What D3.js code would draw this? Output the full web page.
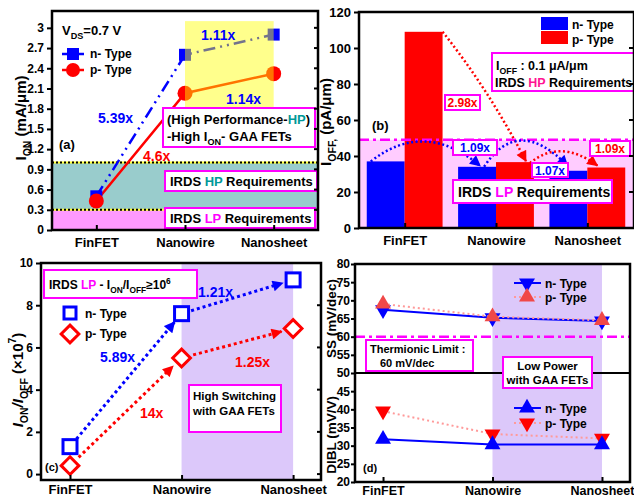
<!DOCTYPE html>
<meta charset="utf-8">
<script src="https://d3js.org/d3.v7.min.js"></script>
<style>
  body { margin: 0; background: #fff; }
  svg text { font-family: "Liberation Sans", Arial, sans-serif; font-weight: bold; }
</style>
<div id="chart"></div>
<script>

// shared categories
var cats = ["FinFET", "Nanowire", "Nanosheet"];

// (a) on-current, mA/um
var ionN = [0.5, 2.6, 2.9];
var ionP = [0.43, 2.03, 2.32];
var ionTicks = [0, 0.3, 0.6, 0.9, 1.2, 1.5, 1.8, 2.1, 2.4, 2.7, 3];
var hpBand = [0.3, 1.0];

// (b) off-current, pA/um
var ioffN = [37, 34, 31.8];
var ioffP = [109, 36.6, 33.6];
var ioffTicks = [0, 20, 40, 60, 80, 100, 120];
var lpLimit = 49;

// (c) Ion/Ioff (x1e7)
var ratioN = [1.3, 7.6, 9.2];
var ratioP = [0.4, 5.5, 6.9];
var ratioTicks = [0, 2, 4, 6, 8, 10];

// (d) SS (mV/dec) and DIBL (mV/V)
var ssN = [67.4, 65.2, 64.3];
var ssP = [69, 65.5, 64.5];
var diblN = [31.8, 30.3, 30.3];
var diblP = [39.5, 33.2, 32];
var dTicks = [20, 25, 30, 35, 40, 45, 50, 55, 60, 65, 70, 75, 80];
var ssLimit = 60;

var svg = d3.select("#chart").append("svg")
    .attr("width", 634)
    .attr("height", 500);

svg.append("rect").attr("width", 634).attr("height", 500).attr("fill", "#fff");

var defs = svg.append("defs");
function arrowDef(id, color) {
  defs.append("marker")
      .attr("id", id)
      .attr("viewBox", "0 0 10 10")
      .attr("refX", 9).attr("refY", 5)
      .attr("markerUnits", "userSpaceOnUse")
      .attr("markerWidth", 13).attr("markerHeight", 11)
      .attr("orient", "auto")
    .append("path")
      .attr("d", "M0,0L10,5L0,10z")
      .attr("fill", color);
}
arrowDef("arB", "#0000ff");
arrowDef("arR", "#ff0000");

// text with sub/superscripts
function rich(g, x, y, parts, size) {
  var t = g.append("text")
      .attr("x", x).attr("y", y)
      .attr("font-size", size);
  var shift = 0;
  parts.forEach(function(p) {
    if (typeof p === "string") p = {t: p};
    var target = p.sub ? size * 0.3 : p.sup ? -size * 0.45 : 0;
    var ts = t.append("tspan").attr("dy", target - shift).text(p.t);
    if (p.sub || p.sup) ts.attr("font-size", size * 0.7);
    if (p.fill) ts.attr("fill", p.fill);
    if (p.italic) ts.attr("font-style", "italic");
    shift = target;
  });
  return t;
}

function box(g, x, y, w, h) {
  g.append("rect")
      .attr("x", x).attr("y", y).attr("width", w).attr("height", h)
      .attr("fill", "#fff")
      .attr("stroke", "#ff00ff")
      .attr("stroke-width", 2);
}

function frame(g, x0, y0, x1, y1) {
  g.append("rect")
      .attr("x", x0).attr("y", y0).attr("width", x1 - x0).attr("height", y1 - y0)
      .attr("fill", "none")
      .attr("stroke", "#000")
      .attr("stroke-width", 2.5);
}

function yAxis(g, y, x0, x1, ticks, fmt, size, len, pad) {
  var ax = g.append("g")
      .attr("transform", "translate(" + x0 + ",0)")
      .call(d3.axisLeft(y).tickValues(ticks).tickFormat(fmt).tickSize(len || 5).tickSizeOuter(0).tickPadding(pad == null ? 3 : pad));
  ax.select(".domain").remove();
  ax.selectAll("line").attr("stroke-width", 2);
  ax.selectAll("text").attr("font-size", size).attr("fill", "#000");
  if (x1 != null) {
    g.append("g").selectAll("line").data(ticks).enter().append("line")
        .attr("x1", x1).attr("x2", x1 - 4)
        .attr("y1", function(d) { return y(d); })
        .attr("y2", function(d) { return y(d); })
        .attr("stroke", "#000").attr("stroke-width", 2);
  }
}

function xAxis(g, x, y0, pad, size) {
  var ax = g.append("g")
      .attr("transform", "translate(0," + y0 + ")")
      .call(d3.axisBottom(x).tickValues([0, 1, 2]).tickFormat(function(i) { return cats[i]; })
        .tickSizeInner(-5).tickSizeOuter(0).tickPadding(pad));
  ax.select(".domain").remove();
  ax.selectAll("line").attr("stroke-width", 2);
  ax.selectAll("text").attr("font-size", size || 13).attr("fill", "#000");
}

// rotated title, centred by measuring its length
function yTitle(g, bx, cy, parts, size) {
  var gg = g.append("g").attr("transform", "translate(" + bx + "," + cy + ") rotate(-90)");
  var t = rich(gg, 0, 0, parts, size);
  var w = t.node().getComputedTextLength();
  t.attr("x", -w / 2);
}

// ---------------- (a) ----------------
var xa = d3.scaleLinear().domain([-0.5, 2.5]).range([52, 318]);
var ya = d3.scaleLinear().domain([0, 3.25]).range([230, 11]);
var ga = svg.append("g");

ga.append("rect").attr("x", 52).attr("y", ya(hpBand[0])).attr("width", 266)
    .attr("height", ya(0) - ya(hpBand[0])).attr("fill", "#ff99ff");
ga.append("rect").attr("x", 52).attr("y", ya(hpBand[1])).attr("width", 266)
    .attr("height", ya(hpBand[0]) - ya(hpBand[1])).attr("fill", "#99cccc");
hpBand.forEach(function(v) {
  ga.append("line").attr("x1", 52).attr("x2", 318).attr("y1", ya(v)).attr("y2", ya(v))
      .attr("stroke", "#ffff33").attr("stroke-width", 2);
  ga.append("line").attr("x1", 52).attr("x2", 318).attr("y1", ya(v)).attr("y2", ya(v))
      .attr("stroke", "#000").attr("stroke-width", 2).attr("stroke-dasharray", "2,2");
});

var lineA = d3.line().x(function(d, i) { return xa(i); }).y(function(d) { return ya(d); });
ga.append("path").datum(ionN).attr("d", lineA).attr("fill", "none")
    .attr("stroke", "#0000ff").attr("stroke-width", 2.5).attr("stroke-dasharray", "12,5,2,5,2,5");
ga.append("path").datum(ionP).attr("d", lineA).attr("fill", "none")
    .attr("stroke", "#ff0000").attr("stroke-width", 2.5);
ga.selectAll(".sqA").data(ionN).enter().append("rect")
    .attr("x", function(d, i) { return xa(i) - 6; })
    .attr("y", function(d) { return ya(d) - 6; })
    .attr("width", 12).attr("height", 12).attr("fill", "#0000ff");
ga.selectAll(".ciA").data(ionP).enter().append("circle")
    .attr("cx", function(d, i) { return xa(i); })
    .attr("cy", function(d) { return ya(d); })
    .attr("r", 7.5).attr("fill", "#ff0000");

// yellow high-performance region
ga.append("rect").attr("x", xa(1)).attr("y", ya(3.1))
    .attr("width", xa(2) - xa(1)).attr("height", ya(1.7) - ya(3.1))
    .attr("fill", "#ffff00").attr("opacity", 0.45);

// legend (a)
rich(ga, 62, 35, ["V", {t: "DS", sub: true}, "=0.7 V"], 13);
ga.append("line").attr("x1", 62).attr("x2", 84).attr("y1", 54).attr("y2", 54).attr("stroke", "#0000ff").attr("stroke-width", 2.5);
ga.append("rect").attr("x", 67).attr("y", 48).attr("width", 12).attr("height", 12).attr("fill", "#0000ff");
ga.append("text").attr("x", 90).attr("y", 58).attr("font-size", 12).text("n- Type");
ga.append("line").attr("x1", 62).attr("x2", 84).attr("y1", 70).attr("y2", 70).attr("stroke", "#ff0000").attr("stroke-width", 2.5);
ga.append("circle").attr("cx", 73).attr("cy", 70).attr("r", 7).attr("fill", "#ff0000");
ga.append("text").attr("x", 90).attr("y", 74).attr("font-size", 12).text("p- Type");

ga.append("text").attr("x", 201).attr("y", 40).attr("font-size", 14).attr("fill", "#0000ff").text("1.11x");
ga.append("text").attr("x", 226).attr("y", 104).attr("font-size", 14).attr("fill", "#0000ff").text("1.14x");
ga.append("text").attr("x", 98).attr("y", 123).attr("font-size", 14).attr("fill", "#0000ff").text("5.39x");
ga.append("text").attr("x", 143).attr("y", 161).attr("font-size", 14).attr("fill", "#ff0000").text("4.6x");
ga.append("text").attr("x", 59).attr("y", 149).attr("font-size", 13).text("(a)");

box(ga, 163, 108, 152, 39);
rich(ga, 167, 124, ["(High Performance-", {t: "HP", fill: "#009999"}, ")"], 13);
rich(ga, 167, 141, ["-High I", {t: "ON", sub: true}, {t: "- GAA FETs"}], 13);
box(ga, 165, 171, 152, 20);
rich(ga, 170, 186, ["IRDS ", {t: "HP", fill: "#009999"}, " Requirements"], 13);
box(ga, 165, 208, 150, 20);
rich(ga, 170, 223, ["IRDS ", {t: "LP", fill: "#ff00ff"}, " Requirements"], 13);

yAxis(ga, ya, 52, 318, ionTicks, d3.format(".1~f"), 12);
xAxis(ga, xa, 230, 8);
frame(ga, 52, 11, 318, 230);
yTitle(ga, 26, 118, ["I", {t: "ON", sub: true}, " (mA/μm)"], 15);

// ---------------- (b) ----------------
var xb = d3.scaleBand().domain(cats).range([359, 633]).paddingInner(0.17).paddingOuter(0.085);
var bw = xb.bandwidth() / 2;
var yb = d3.scaleLinear().domain([0, 120]).range([228, 12]);
var gb = svg.append("g");

gb.append("rect").attr("x", 359).attr("y", yb(lpLimit)).attr("width", 274)
    .attr("height", yb(0) - yb(lpLimit)).attr("fill", "#ffccff");

gb.selectAll(".bn").data(ioffN).enter().append("rect")
    .attr("x", function(d, i) { return xb(cats[i]); })
    .attr("y", function(d) { return yb(d); })
    .attr("width", bw).attr("height", function(d) { return yb(0) - yb(d); })
    .attr("fill", "#0000ff");
gb.selectAll(".bp").data(ioffP).enter().append("rect")
    .attr("x", function(d, i) { return xb(cats[i]) + bw; })
    .attr("y", function(d) { return yb(d); })
    .attr("width", bw).attr("height", function(d) { return yb(0) - yb(d); })
    .attr("fill", "#ff0000");

gb.append("line").attr("x1", 359).attr("x2", 633).attr("y1", yb(lpLimit)).attr("y2", yb(lpLimit))
    .attr("stroke", "#ff00ff").attr("stroke-width", 2.5).attr("stroke-dasharray", "10,4,3,4");

function curve(g, x0, y0, x1, y1, cx, cy, color, mk) {
  g.append("path")
      .attr("d", "M" + x0 + "," + y0 + "Q" + cx + "," + cy + " " + x1 + "," + y1)
      .attr("fill", "none").attr("stroke", color).attr("stroke-width", 2.5)
      .attr("stroke-dasharray", "2,2.5").attr("marker-end", "url(#" + mk + ")");
}
var bx0 = xb(cats[0]), bx1 = xb(cats[1]), bx2 = xb(cats[2]);
curve(gb, bx0 + 2 * bw, yb(ioffP[0]), bx1 + 2 * bw - 8, yb(ioffP[1]) - 1,
      (bx0 + bx1) / 2 + 2 * bw, (yb(ioffP[0]) + yb(ioffP[1])) / 2 - 8, "#ff0000", "arR");
curve(gb, bx0 + 4, yb(ioffN[0]), bx1 + 22, yb(ioffN[1]) - 1,
      bx0 + 58, yb(ioffN[0]) - 42, "#0000ff", "arB");
curve(gb, bx1 + 26, yb(ioffN[1]), bx2 + 18, yb(ioffN[2]) - 5,
      bx1 + 60, yb(ioffN[1]) - 52, "#0000ff", "arB");
curve(gb, bx1 + 2 * bw - 4, yb(ioffP[1]) + 1, bx2 + bw + 10, yb(ioffP[2]) - 2,
      bx1 + 2 * bw + 26, yb(ioffP[1]) - 24, "#ff0000", "arR");

// legend (b)
gb.append("rect").attr("x", 541).attr("y", 17).attr("width", 27).attr("height", 13).attr("fill", "#0000ff");
gb.append("rect").attr("x", 541).attr("y", 31).attr("width", 27).attr("height", 13).attr("fill", "#ff0000");
gb.append("text").attr("x", 572).attr("y", 29).attr("font-size", 12).text("n- Type");
gb.append("text").attr("x", 572).attr("y", 44).attr("font-size", 12).text("p- Type");

box(gb, 492, 53, 150, 38);
rich(gb, 496, 70, ["I", {t: "OFF", sub: true}, " : 0.1 μA/μm"], 12.5);
rich(gb, 495, 87, ["IRDS ", {t: "HP", fill: "#ff1493"}, " Requirements"], 12.5);

box(gb, 445, 95, 35, 15);
gb.append("text").attr("x", 462.5).attr("y", 107).attr("text-anchor", "middle").attr("font-size", 12).attr("fill", "#ff0000").text("2.98x");
gb.append("text").attr("x", 372).attr("y", 130).attr("font-size", 13).text("(b)");
box(gb, 453, 140, 44, 15);
gb.append("text").attr("x", 475).attr("y", 152).attr("text-anchor", "middle").attr("font-size", 12).attr("fill", "#0000ff").text("1.09x");
box(gb, 532, 163, 36, 14);
gb.append("text").attr("x", 550).attr("y", 175).attr("text-anchor", "middle").attr("font-size", 12).attr("fill", "#0000ff").text("1.07x");
box(gb, 590, 141, 40, 15);
gb.append("text").attr("x", 610).attr("y", 153).attr("text-anchor", "middle").attr("font-size", 12).attr("fill", "#ff0000").text("1.09x");
box(gb, 453, 180, 159, 23);
rich(gb, 458, 197, ["IRDS ", {t: "LP", fill: "#ff00ff"}, " Requirements"], 14);

yAxis(gb, yb, 359, 633, ioffTicks, d3.format("d"), 13);
var xbl = d3.scaleLinear().domain([-0.5, 2.5]).range([359, 633]);
xAxis(gb, xbl, 228, 8);
frame(gb, 359, 12, 634, 228);
yTitle(gb, 331, 122, ["I", {t: "OFF,", sub: true}, " (pA/μm)"], 15);

// ---------------- (c) ----------------
var xc = d3.scaleLinear().domain([-0.26, 2.25]).range([41, 321]);
var yc = d3.scaleLinear().domain([-0.28, 10]).range([480, 263]);
var gc = svg.append("g");

gc.append("rect").attr("x", xc(1)).attr("y", 263).attr("width", xc(2) - xc(1))
    .attr("height", 217).attr("fill", "#dcc8fa");

function arrowLine(g, x0, y0, x1, y1, color, mk, s0, s1) {
  var dx = x1 - x0, dy = y1 - y0, L = Math.sqrt(dx * dx + dy * dy);
  g.append("line")
      .attr("x1", x0 + dx / L * s0).attr("y1", y0 + dy / L * s0)
      .attr("x2", x1 - dx / L * s1).attr("y2", y1 - dy / L * s1)
      .attr("stroke", color).attr("stroke-width", 3).attr("stroke-dasharray", "3,3")
      .attr("marker-end", "url(#" + mk + ")");
}
for (var i = 0; i < 2; i++) {
  arrowLine(gc, xc(i), yc(ratioN[i]), xc(i + 1), yc(ratioN[i + 1]), "#0000ff", "arB", 10, 11);
  arrowLine(gc, xc(i), yc(ratioP[i]), xc(i + 1), yc(ratioP[i + 1]), "#ff0000", "arR", 12, 12);
}
gc.selectAll(".sqC").data(ratioN).enter().append("rect")
    .attr("x", function(d, i) { return xc(i) - 7; })
    .attr("y", function(d) { return yc(d) - 7; })
    .attr("width", 14).attr("height", 14)
    .attr("fill", "#fff").attr("stroke", "#0000ff").attr("stroke-width", 3);
var diamond = d3.symbol().type(d3.symbolDiamond2).size(200);
gc.selectAll(".dmC").data(ratioP).enter().append("path")
    .attr("d", diamond)
    .attr("transform", function(d, i) { return "translate(" + xc(i) + "," + yc(d) + ")"; })
    .attr("fill", "#fff").attr("stroke", "#ff0000").attr("stroke-width", 3);

box(gc, 44, 270, 153, 28);
rich(gc, 49, 289, ["IRDS ", {t: "LP", fill: "#ff00ff"}, " - I", {t: "ON", sub: true}, "/I", {t: "OFF", sub: true}, "≥10", {t: "6", sup: true}], 12);

gc.append("rect").attr("x", 64).attr("y", 307).attr("width", 12).attr("height", 12)
    .attr("fill", "#fff").attr("stroke", "#0000ff").attr("stroke-width", 3);
gc.append("text").attr("x", 85).attr("y", 318).attr("font-size", 12).text("n- Type");
gc.append("path").attr("d", diamond).attr("transform", "translate(70,334)")
    .attr("fill", "#fff").attr("stroke", "#ff0000").attr("stroke-width", 3);
gc.append("text").attr("x", 85).attr("y", 338).attr("font-size", 12).text("p- Type");

gc.append("text").attr("x", 100).attr("y", 362).attr("font-size", 14).attr("fill", "#0000ff").text("5.89x");
gc.append("text").attr("x", 198).attr("y", 297).attr("font-size", 14).attr("fill", "#0000ff").text("1.21x");
gc.append("text").attr("x", 140).attr("y", 418).attr("font-size", 14).attr("fill", "#ff0000").text("14x");
gc.append("text").attr("x", 235).attr("y", 367).attr("font-size", 14).attr("fill", "#ff0000").text("1.25x");
box(gc, 189, 385, 92, 47);
gc.append("text").attr("x", 193).attr("y", 400).attr("font-size", 11.5).text("High Switching");
gc.append("text").attr("x", 193).attr("y", 415).attr("font-size", 11.5).text("with GAA FETs");
gc.append("text").attr("x", 45).attr("y", 471).attr("font-size", 11).text("(c)");

yAxis(gc, yc, 41, 321, ratioTicks, d3.format("d"), 12);
xAxis(gc, xc, 480, 5);
frame(gc, 41, 263, 321, 480);
yTitle(gc, 23, 380, [{t: "I", italic: true}, {t: "ON", sub: true}, {t: "/I", italic: true}, {t: "OFF", sub: true}, " (×10", {t: "7", sup: true}, ")"], 15);

// ---------------- (d) ----------------
var xd = d3.scaleLinear().domain([-0.256, 2.256]).range([355, 630]);
var yd = d3.scaleLinear().domain([20, 80]).range([482, 264]);
var gd = svg.append("g");

gd.append("rect").attr("x", xd(1)).attr("y", 264).attr("width", xd(2) - xd(1))
    .attr("height", 218).attr("fill", "#dcc8fa");
gd.append("line").attr("x1", 355).attr("x2", 630).attr("y1", yd(ssLimit)).attr("y2", yd(ssLimit))
    .attr("stroke", "#ff00ff").attr("stroke-width", 2.5).attr("stroke-dasharray", "10,4,3,4");
gd.append("line").attr("x1", 355).attr("x2", 630).attr("y1", yd(50)).attr("y2", yd(50))
    .attr("stroke", "#000").attr("stroke-width", 2);

var lineD = d3.line().x(function(d, i) { return xd(i); }).y(function(d) { return yd(d); });
var tri = d3.symbol().type(d3.symbolTriangle).size(110);
function series(g, data, lineColor, dash, mColor, down) {
  var p = g.append("path").datum(data).attr("d", lineD).attr("fill", "none")
      .attr("stroke", lineColor).attr("stroke-width", 2);
  if (dash) p.attr("stroke-dasharray", dash);
  g.selectAll(null).data(data).enter().append("path")
      .attr("d", tri)
      .attr("transform", function(d, i) {
        return "translate(" + xd(i) + "," + yd(d) + ")" + (down ? " rotate(180)" : "");
      })
      .attr("fill", mColor);
}
series(gd, ssN, "#0000ff", null, "#0000ff", true);
series(gd, ssP, "#ff9999", "2,3", "#f04848", false);
series(gd, diblP, "#ff9999", "2,3", "#ff0000", true);
series(gd, diblN, "#0000ff", null, "#0000ff", false);

function legD(g, y, lineColor, dash, mColor, down, label) {
  var l = g.append("line").attr("x1", 514).attr("x2", 541).attr("y1", y).attr("y2", y)
      .attr("stroke", lineColor).attr("stroke-width", 2);
  if (dash) l.attr("stroke-dasharray", dash);
  g.append("path").attr("d", tri)
      .attr("transform", "translate(527," + y + ")" + (down ? " rotate(180)" : ""))
      .attr("fill", mColor);
  g.append("text").attr("x", 545).attr("y", y + 5).attr("font-size", 12).text(label);
}
legD(gd, 283, "#0000ff", null, "#0000ff", true, "n- Type");
legD(gd, 297, "#ff9999", "2,3", "#f04848", false, "p- Type");
legD(gd, 408, "#0000ff", null, "#0000ff", false, "n- Type");
legD(gd, 423, "#ff9999", "2,3", "#ff0000", true, "p- Type");

box(gd, 366, 340, 107, 31);
gd.append("text").attr("x", 370).attr("y", 353).attr("font-size", 11).text("Thermionic Limit :");
gd.append("text").attr("x", 380).attr("y", 367).attr("font-size", 11).text("60 mV/dec");
box(gd, 503, 357, 89, 31);
gd.append("text").attr("x", 547.5).attr("y", 370).attr("text-anchor", "middle").attr("font-size", 11.5).text("Low Power");
gd.append("text").attr("x", 547.5).attr("y", 384).attr("text-anchor", "middle").attr("font-size", 11.5).text("with GAA FETs");
gd.append("text").attr("x", 363).attr("y", 472).attr("font-size", 11).text("(d)");

yAxis(gd, yd, 355, null, dTicks, d3.format("d"), 12, 4, 1);
xAxis(gd, xd, 482, 4, 12.5);
frame(gd, 355, 264, 630, 482);
yTitle(gd, 336, yd(65), ["SS (mV/dec)"], 13.5);
yTitle(gd, 336, yd(33), ["DIBL (mV/V)"], 13.5);

</script>
